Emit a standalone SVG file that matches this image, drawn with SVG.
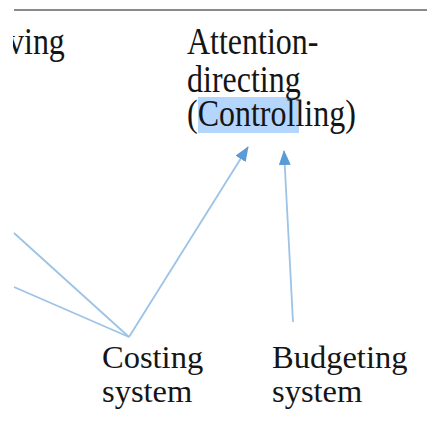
<svg xmlns="http://www.w3.org/2000/svg" width="427" height="441" viewBox="0 0 427 441">
  <defs>
    <style>
      .lbl { font-family: 'Liberation Serif', 'DejaVu Serif', serif; font-size: 32.5px; fill: #151515; }
      .tall { font-size: 32px; }
      .link { stroke: #9dc3e6; stroke-width: 1.8; fill: none; }
    </style>
    <marker id="head" viewBox="0 0 15 12" refX="14" refY="6" markerWidth="15" markerHeight="12" markerUnits="userSpaceOnUse" orient="auto">
      <path d="M0,0 L15,6 L0,12 Z" fill="#5b9bd5"/>
    </marker>
    <clipPath id="page">
      <rect x="13" y="0" width="414" height="441"/>
    </clipPath>
  </defs>

  <rect width="427" height="441" fill="#ffffff"/>

  <!-- rule along the top -->
  <line x1="14" y1="10" x2="427" y2="10" stroke="#8a8a8a" stroke-width="2.2"/>

  <g id="node-solving" clip-path="url(#page)">
    <text class="lbl tall" transform="translate(8,54) scale(1,1.2)">ving</text>
  </g>

  <g id="node-attention">
    <rect x="198" y="97" width="101" height="36" fill="#b4d5fc"/>
    <text class="lbl tall" transform="translate(187,54) scale(1,1.2)">Attention-</text>
    <text class="lbl tall" transform="translate(187,92) scale(1,1.2)">directing</text>
    <text class="lbl tall" transform="translate(187,126) scale(1,1.2)">(Controlling)</text>
  </g>

  <g id="node-costing">
    <text class="lbl" x="102" y="368">Costing</text>
    <text class="lbl" x="102" y="402">system</text>
  </g>

  <g id="node-budgeting">
    <text class="lbl" x="272" y="368">Budgeting</text>
    <text class="lbl" x="272" y="402">system</text>
  </g>

  <g id="connectors">
    <line class="link" x1="14" y1="233" x2="129" y2="337"/>
    <line class="link" x1="14" y1="287" x2="129" y2="337"/>
    <line class="link" x1="129" y1="337" x2="248" y2="147" marker-end="url(#head)"/>
    <line class="link" x1="293" y1="322" x2="284" y2="151" marker-end="url(#head)"/>
  </g>
</svg>
